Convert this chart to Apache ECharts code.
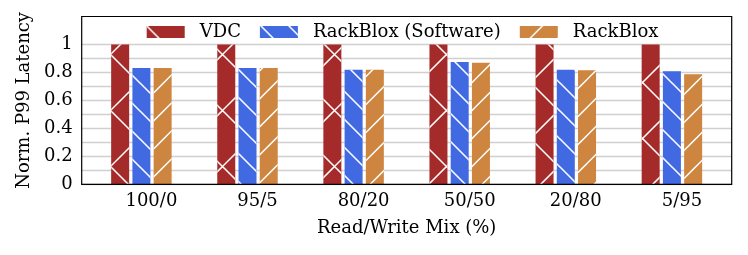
<!DOCTYPE html>
<html>
<head>
<meta charset="utf-8">
<script src="https://cdn.jsdelivr.net/npm/echarts@6/dist/echarts.min.js"></script>
<style>
html,body{margin:0;padding:0;background:#fff;}
#chart{width:748px;height:255px;position:absolute;left:0;top:0;}
</style>
</head>
<body>
<div id="chart"></div>
<script>
// ---- data ----
const categories = ['100/0', '95/5', '80/20', '50/50', '20/80', '5/95'];
const seriesNames = ['VDC', 'RackBlox (Software)', 'RackBlox'];
const vdcValues = [1, 1, 1, 1, 1, 1];
const rackbloxSoftwareValues = [0.832, 0.832, 0.820, 0.875, 0.820, 0.808];
const rackbloxValues = [0.832, 0.832, 0.820, 0.870, 0.815, 0.787];
const yTickLabels = ['0', '0.2', '0.4', '0.6', '0.8', '1'];

// ---- hatch helpers ----
function clipHalf(poly, inside, intersect) {
  const out = [];
  for (let i = 0; i < poly.length; i++) {
    const cur = poly[i], prev = poly[(i + poly.length - 1) % poly.length];
    const ci = inside(cur), pi = inside(prev);
    if (ci) { if (!pi) out.push(intersect(prev, cur)); out.push(cur); }
    else if (pi) out.push(intersect(prev, cur));
  }
  return out;
}
function lerpX(a, b, x) { const t = (x - a[0]) / (b[0] - a[0]); return [x, a[1] + t * (b[1] - a[1])]; }
function lerpY(a, b, y) { const t = (y - a[1]) / (b[1] - a[1]); return [a[0] + t * (b[0] - a[0]), y]; }
function clip(poly, P) {
  poly = clipHalf(poly, p => p[0] >= 0, (a, b) => lerpX(a, b, 0));
  poly = clipHalf(poly, p => p[0] <= P, (a, b) => lerpX(a, b, P));
  poly = clipHalf(poly, p => p[1] >= 0, (a, b) => lerpY(a, b, 0));
  poly = clipHalf(poly, p => p[1] <= P, (a, b) => lerpY(a, b, P));
  return poly;
}
function hatchPath(P, families, t) {
  let d = '';
  families.forEach(f => {
    for (let k = -2; k <= 2; k++) {
      const c = f.phase + k * P, a = c - t / 2, b = c + t / 2;
      let poly = f.dir === '\\'
        ? [[a - P, -P], [b - P, -P], [b + 2 * P, 2 * P], [a + 2 * P, 2 * P]]
        : [[a + P, -P], [b + P, -P], [b - 2 * P, 2 * P], [a - 2 * P, 2 * P]];
      poly = clip(poly, P);
      if (poly.length >= 3) {
        d += 'M' + poly.map(p => (Math.abs(p[0]) < 1e-9 ? 0 : p[0]).toFixed(2) + ',' + (Math.abs(p[1]) < 1e-9 ? 0 : p[1]).toFixed(2)).join('L') + 'Z';
      }
    }
  });
  return 'path://' + d;
}
function decal(P, families) {
  return {
    symbol: hatchPath(P, families, 2.2),
    symbolSize: 1,
    symbolKeepAspect: false,
    color: '#ffffff',
    dashArrayX: [P, 0],
    dashArrayY: [P, 0],
    rotation: 0
  };
}
const decals = [
  decal(56, [{ dir: '\\', phase: 0 }, { dir: '/', phase: 53 }]),
  decal(28, [{ dir: '\\', phase: 1 }]),
  decal(28, [{ dir: '/', phase: 22.5 }])
];
const colors = ['#a52a2a', '#4169e1', '#cd853f'];
const valueLists = [vdcValues, rackbloxSoftwareValues, rackbloxValues];

const FONT = 'DejaVu Serif';
const gridColors = [];
for (let i = 0; i < 13; i++) gridColors.push(i <= 10 ? '#d0d0d0' : 'rgba(0,0,0,0)');

const chart = echarts.init(document.getElementById('chart'), null, { renderer: 'canvas' });
chart.setOption({
  animation: false,
  backgroundColor: '#ffffff',
  textStyle: { fontFamily: FONT },
  legend: {
    data: seriesNames,
    icon: 'rect',
    itemWidth: 38,
    itemHeight: 12,
    itemGap: 19,
    left: 146.7,
    top: 23,
    padding: 0,
    textStyle: { fontFamily: FONT, fontSize: 18, color: '#000', padding: [0, 0, 0, 10] }
  },
  grid: [
    { left: 81.7, right: 16.3, top: 16.5, bottom: 70.7, show: true, borderColor: '#000', borderWidth: 1.2, backgroundColor: 'rgba(0,0,0,0)', z: 5 },
    { left: 88.35, right: 23.05, top: 16.5, bottom: 70.7 }
  ],
  xAxis: [
    { type: 'value', gridIndex: 0, min: 0, max: 1,
      axisLine: { show: false }, axisTick: { show: false }, axisLabel: { show: false }, splitLine: { show: false },
      name: 'Read/Write Mix (%)', nameLocation: 'middle', nameGap: 35,
      nameTextStyle: { fontFamily: FONT, fontSize: 18, color: '#000' } },
    { type: 'category', gridIndex: 1, data: categories,
      axisLine: { show: false }, axisTick: { show: false },
      axisLabel: { fontFamily: FONT, fontSize: 18, color: '#000', margin: 8, padding: [0, 0, 0, 20] } }
  ],
  yAxis: [
    { type: 'value', gridIndex: 0, min: 0, max: 1.2, interval: 0.2,
      axisLine: { show: false }, axisTick: { show: false }, splitLine: { show: false },
      axisLabel: { fontFamily: FONT, fontSize: 18, color: '#000', margin: 9, showMaxLabel: false,
        formatter: function (v) { const i = Math.round(v / 0.2); return yTickLabels[i] !== undefined ? yTickLabels[i] : ''; } },
      name: 'Norm. P99 Latency', nameLocation: 'middle', nameGap: 46,
      nameTextStyle: { fontFamily: FONT, fontSize: 18, color: '#000' } },
    { type: 'value', gridIndex: 0, min: 0, max: 1.2, interval: 0.1, position: 'left',
      axisLine: { show: false }, axisTick: { show: false }, axisLabel: { show: false },
      splitLine: { show: true, lineStyle: { color: gridColors, width: 1.3 } } },
    { type: 'value', gridIndex: 1, min: 0, max: 1.2, show: false, splitLine: { show: false } }
  ],
  series: seriesNames.map((name, i) => ({
    name: name,
    type: 'bar',
    xAxisIndex: 1,
    yAxisIndex: 2,
    data: valueLists[i],
    barWidth: 18,
    barGap: '18%',
    itemStyle: { color: colors[i], decal: decals[i] }
  }))
});
</script>
</body>
</html>
